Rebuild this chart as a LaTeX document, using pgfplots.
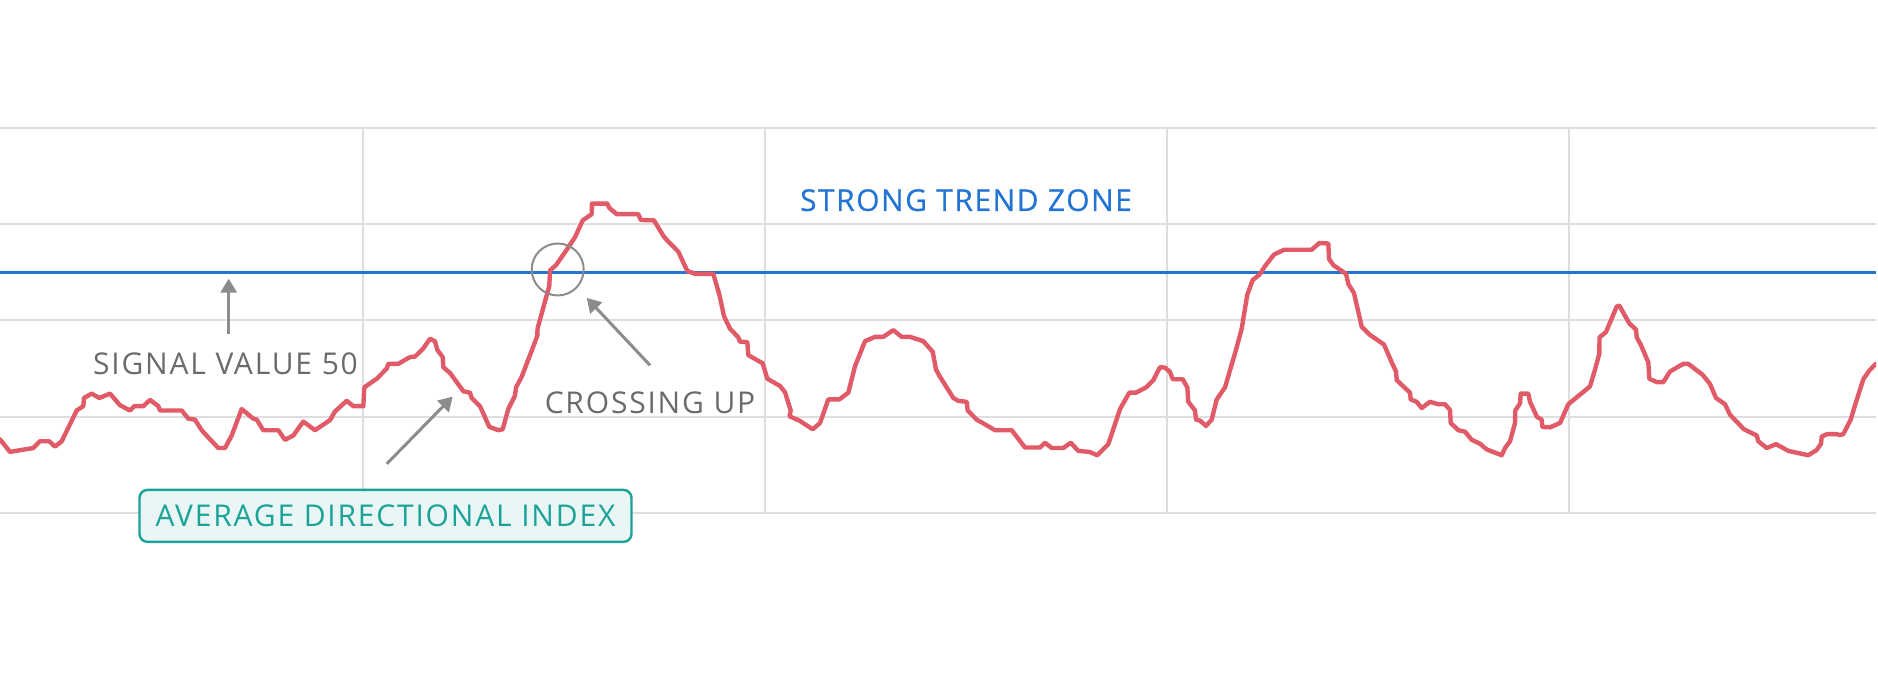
\documentclass[border=0pt]{standalone}
\usepackage{pgfplots}
\pgfplotsset{compat=1.18}
\usepackage{pgfplotstable}
\usepackage{fontspec}
\setmainfont{Open Sans}
\newfontfamily\ann[LetterSpace=6]{Open Sans}
\newfontfamily\annsb[LetterSpace=5, FakeBold=0.6]{Open Sans}
\usetikzlibrary{arrows.meta}
\definecolor{gridc}{HTML}{DEDEDE}
\definecolor{adx}{HTML}{E05A68}
\definecolor{trend}{HTML}{2474D4}
\definecolor{annc}{HTML}{6B6B6B}
\definecolor{arrc}{HTML}{8C8C8C}
\definecolor{tealc}{HTML}{1BA398}
\definecolor{tealbg}{HTML}{E9F6F5}

\pgfplotstableread{
x v
0 15.3
10 12.7
33.3 13.5
40 14.9
49.3 14.9
55 13.8
61.7 14.9
76.7 21.3
83.3 22.2
84 23.9
91.7 24.8
99.3 23.9
110 24.8
120 22.4
130 21.3
134.3 22.2
143.3 22.2
150 23.5
158.3 22.2
160 21.3
181.7 21.3
188.3 19.6
195 19.4
201.7 17.2
208.3 15.7
218.3 13.5
225 13.5
231.7 16.1
241.7 21.6
253.3 19.6
256.7 19.4
263.3 17.2
278.3 17.2
285 15.2
293.3 16.1
303.3 19.0
315 17.2
330 19.3
335 21.1
346.7 23.3
353.3 22.2
363.3 22.2
364.3 26.1
376.7 27.9
386.7 30.0
388.3 31.0
398.3 31.0
410 32.4
415 32.5
423.3 34.2
430 36.2
435 35.7
437.3 33.9
442.7 32.4
443.3 30.3
450 29.1
456.7 27.2
463.3 25.3
470 25.0
471.7 23.9
480 22.2
489.3 17.9
498.3 17.2
502.7 17.4
508.3 21.6
515 24.4
516 26.1
521.7 28.3
533.3 34.6
537.3 36.8
537.5 38.3
549.3 47.2
550 50.4
556 51.5
566.7 54.7
575 57.3
582.7 60.8
591.7 62.1
591.9 64.3
607.3 64.3
609.3 63.4
616.7 62.1
638.3 62.1
640.7 60.9
654 60.8
663.3 57.6
667.3 56.6
678.3 54.3
685 51.3
687.3 50.3
695 49.7
713.3 49.7
719.3 45.4
724 40.9
730 38.3
738.3 36.5
740 35.6
747.3 35.5
748.3 32.8
762.7 31.1
767.3 27.9
780 26.4
785 25.1
790.7 21.3
789.5 20.1
799.3 19.2
812.7 17.4
820 18.7
828.3 23.6
839.3 23.6
848.3 25.0
855 30.5
865 35.7
875 36.6
883.3 36.6
893.3 38.0
901.7 36.6
910 36.6
923.3 35.7
932.7 33.5
936 29.8
940 28.3
953.3 23.9
958.3 23.3
966.7 23.1
967.7 21.3
976.7 19.4
986 18.3
995 17.2
1011.7 17.2
1025 13.6
1040 13.6
1045 14.6
1051.7 13.5
1063.3 13.5
1070.7 14.6
1078.3 12.9
1089.3 12.7
1097.3 12.0
1108.3 14.3
1120 21.6
1129.3 25.0
1136 25.0
1146 26.1
1153.3 27.6
1160 30.3
1165 30.2
1170 29.3
1172.7 27.8
1182.7 27.8
1187.3 26.1
1188.3 23.1
1195 21.3
1196 19.4
1200 19.2
1206 18.1
1211.7 19.4
1216.7 23.6
1225 26.1
1236 33.9
1241.7 38.3
1247.3 45.4
1252.7 48.4
1259.3 49.5
1265 51.3
1274 53.7
1284 54.7
1311.7 54.7
1319.3 56.1
1328.3 56.0
1329 52.8
1333.3 51.5
1346 49.7
1348.3 47.6
1354 45.7
1361.7 38.7
1370 37.0
1384 35.0
1391.7 31.3
1396 29.4
1396.7 27.6
1410 25.0
1410.7 23.6
1416.7 23.1
1421.7 21.8
1430 23.1
1438.3 22.6
1445 22.6
1450 21.4
1450.7 18.7
1458.3 17.2
1465 16.9
1471.7 15.2
1480 14.4
1486.7 13.2
1501.7 12.0
1505 13.5
1510 14.9
1515 18.7
1515.3 21.3
1520 22.8
1520.7 24.8
1528.3 24.8
1530 23.1
1536 20.4
1536.7 20.0
1541.7 19.4
1542.3 17.9
1550 17.8
1560 18.7
1568.3 22.6
1580 24.6
1590 26.3
1595 29.8
1599.3 33.1
1599.5 36.5
1606 37.6
1616.7 42.9
1619.3 43.1
1629.3 39.4
1636 38.1
1636.7 36.5
1640.7 35.0
1648.3 31.3
1649.3 27.9
1656.7 27.2
1663.3 27.2
1670 29.4
1683.3 31.0
1688.3 31.0
1702.7 28.7
1710 26.8
1716 23.9
1725 22.6
1730 20.4
1744 17.4
1756.7 16.1
1758.3 14.9
1766.7 13.5
1776 14.3
1788.3 12.9
1808.3 12.0
1816.7 13.1
1821 14.4
1821.7 15.9
1827.3 16.4
1836 16.4
1840 16.2
1843.3 16.4
1850.7 19.4
1855 22.4
1863.3 27.8
1869.3 29.6
1876 31.0
}\adxdata

\begin{document}
\begin{tikzpicture}
\useasboundingbox (0,0) rectangle (939pt,339pt);
\begin{axis}[
  at={(0pt,82.5pt)}, anchor=south west,
  scale only axis, width=938pt, height=192.5pt,
  xmin=0, xmax=1876, ymin=0, ymax=80,
  xtick={363,765,1167,1569}, ytick={0,20,40,60,80},
  xticklabels={}, yticklabels={},
  grid=major, grid style={gridc, line width=1pt},
  axis line style={draw=none}, major tick length=0pt,
  clip mode=individual,
]
\addplot[trend, line width=1.4pt] coordinates {(0,50) (1876,50)};
\addplot[adx, line width=2.2pt, line join=round, line cap=round] table[x=x, y=v] {\adxdata};

\node[text=trend, font=\annsb\fontsize{15}{18}\selectfont] at (axis cs:966,65) {STRONG TREND ZONE};

\draw[arrc, line width=1.5pt, -{Triangle[length=7pt,width=8pt]}] (axis cs:228.7,37.2) -- (axis cs:228.7,48.7);
\node[text=annc, font=\ann\fontsize{15}{18}\selectfont] at (axis cs:225.5,31.0) {SIGNAL VALUE 50};

\draw[arrc, line width=1pt] (axis cs:557.7,50.6) circle[radius=13pt];
\draw[arrc, line width=1.5pt, -{Triangle[length=7pt,width=8pt]}] (axis cs:650,30.7) -- (axis cs:586.7,44.7);
\node[text=annc, font=\ann\fontsize{15}{18}\selectfont] at (axis cs:650,22.9) {CROSSING UP};

\draw[arrc, line width=1.5pt, -{Triangle[length=7pt,width=8pt]}] (axis cs:386.7,10.2) -- (axis cs:452.7,24.2);
\node[draw=tealc, fill=tealbg, line width=1.2pt, rounded corners=4pt, text=tealc, minimum width=246pt, minimum height=26pt, inner sep=0pt, font=\ann\fontsize{15}{18}\selectfont] at (axis cs:385.5,-0.6) {AVERAGE DIRECTIONAL INDEX};
\end{axis}
\end{tikzpicture}
\end{document}
